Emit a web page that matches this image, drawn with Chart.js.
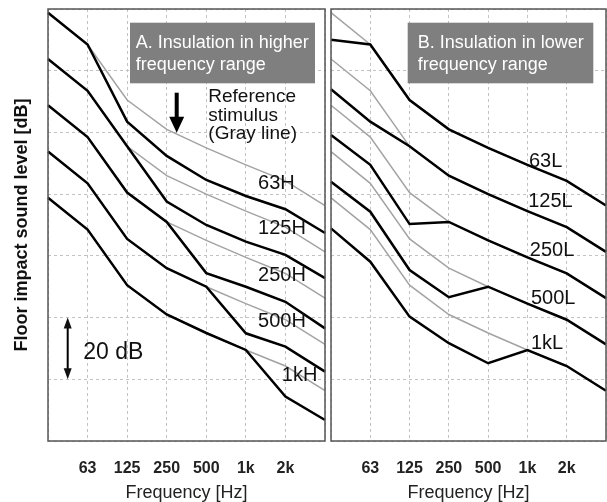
<!DOCTYPE html>
<html>
<head>
<meta charset="utf-8">
<script src="https://cdn.jsdelivr.net/npm/chart.js@4.4.1/dist/chart.umd.min.js"></script>
<style>
  html, body { margin: 0; padding: 0; background: #fff; }
  #wrap { position: relative; width: 607px; height: 502px; }
  canvas { position: absolute; top: 0; }
  #chartA { left: 0; }
  #chartB { left: 327px; }
</style>
</head>
<body>
<div id="wrap">
  <canvas id="chartA" width="327" height="502"></canvas>
  <canvas id="chartB" width="280" height="502"></canvas>
</div>
<script>
// Frequency bands (outer slots are unlabeled)
const categories = ['', '63', '125', '250', '500', '1k', '2k', ''];

// Reference stimulus (gray lines), dB
const ref63  = [138.8, 128.5, 110.5, 101.0, 95.0, 89.5, 84.3, 76.3];
const ref125 = [123.8, 113.5, 95.5, 86.0, 80.0, 74.5, 69.3, 61.3];
const ref250 = [108.8, 98.5, 80.5, 71.0, 65.0, 59.5, 54.3, 46.3];
const ref500 = [93.8, 83.5, 65.5, 56.0, 50.0, 44.5, 39.3, 31.3];
const ref1k  = [78.8, 68.5, 50.5, 41.0, 35.0, 29.5, 24.3, 16.3];

// A. insulation in higher frequency range
const hi63  = [138.8, 128.5, 103.5, 92.4, 84.6, 79.4, 75.1, 67.4];
const hi125 = [123.8, 113.5, 95.5, 77.6, 70.0, 64.6, 60.3, 52.8];
const hi250 = [108.8, 98.5, 80.5, 71.0, 54.4, 50.0, 45.1, 36.5];
const hi500 = [93.8, 83.5, 65.5, 56.0, 50.0, 34.9, 30.6, 22.5];
const hi1k  = [78.8, 68.5, 50.5, 41.0, 35.0, 29.5, 14.4, 6.8];

// B. insulation in lower frequency range
const lo63  = [130.0, 128.5, 110.5, 101.0, 95.0, 89.5, 84.3, 76.3];
const lo125 = [114.0, 103.5, 95.5, 86.0, 80.0, 74.5, 69.3, 61.3];
const lo250 = [99.2, 89.5, 70.3, 71.0, 65.0, 59.5, 54.3, 46.3];
const lo500 = [84.0, 74.3, 55.4, 46.6, 50.0, 44.5, 39.3, 31.3];
const lo1k  = [68.9, 58.1, 40.3, 31.7, 25.2, 29.5, 24.3, 16.3];

const namesA = ['63H', '125H', '250H', '500H', '1kH'];
const namesB = ['63L', '125L', '250L', '500L', '1kL'];

const FONT = 'Arial, "Liberation Sans", sans-serif';

function lineSet(data, color, width) {
    return {
        data: data,
        borderColor: color,
        borderWidth: width,
        pointRadius: 0,
        tension: 0,
        fill: false,
        borderJoinStyle: 'miter'
    };
}

function buildScales(showYTitle, yWidth) {
    return {
        x: {
            type: 'category',
            offset: false,
            // invisible tick marks push the labels down (ticks.padding would shrink the plot)
            grid: { color: '#c2c2c2', lineWidth: 1, drawTicks: true, tickLength: 18, tickColor: 'rgba(0,0,0,0)' },
            border: { display: false, dash: [3, 3] },
            ticks: {
                autoSkip: false, maxRotation: 0, padding: 0, color: '#222',
                font: { family: FONT, size: 16, weight: 'bold' }
            },
            title: {
                display: true, text: 'Frequency [Hz]', color: '#222', padding: 0,
                font: { family: FONT, size: 18, lineHeight: 1 }
            },
            afterFit: s => { s.height = 61; }
        },
        y: {
            min: 0, max: 140,
            grid: { color: '#c2c2c2', lineWidth: 1, drawTicks: false },
            border: { display: false, dash: [3, 3] },
            ticks: { display: false, stepSize: 20, padding: 0 },
            title: {
                display: showYTitle, text: 'Floor impact sound level [dB]', color: '#111',
                padding: { top: 11, bottom: 0 },
                font: { family: FONT, size: 18, weight: 'bold' }
            },
            afterFit: s => { s.width = yWidth; }
        }
    };
}

// frame, title box, curve labels, extra notes
function notesPlugin(notes) {
    return {
        id: 'notes',
        afterDraw(chart) {
            const { ctx, chartArea: a, scales } = chart;
            const px = i => scales.x.getPixelForValue(i);
            const py = v => scales.y.getPixelForValue(v);
            ctx.save();
            ctx.strokeStyle = '#555';
            ctx.lineWidth = 1.5;
            ctx.strokeRect(a.left, a.top, a.right - a.left, a.bottom - a.top);

            ctx.fillStyle = '#7f7f7f';
            ctx.fillRect(a.left + notes.box.dx, a.top + 13.7, notes.box.w, 60.6);
            ctx.fillStyle = '#fff';
            ctx.font = '18px ' + FONT;
            ctx.textBaseline = 'middle';
            notes.box.lines.forEach((t, k) => ctx.fillText(t, a.left + notes.box.tx, a.top + 34.3 + k * 21.7));

            ctx.fillStyle = '#111';
            ctx.font = '20px ' + FONT;
            notes.tags.forEach(t => ctx.fillText(t.text, px(t.xi), py(t.v)));

            if (notes.extra) notes.extra(ctx, a, px, py);
            ctx.restore();
        }
    };
}

const notesA = {
    box: { dx: 82, tx: 87.7, w: 185, lines: ['A. Insulation in higher', 'frequency range'] },
    tags: [
        { text: namesA[0], xi: 5.31, v: 83.6 },
        { text: namesA[1], xi: 5.31, v: 69.0 },
        { text: namesA[2], xi: 5.31, v: 53.8 },
        { text: namesA[3], xi: 5.31, v: 38.6 },
        { text: namesA[4], xi: 5.91, v: 21.1 }
    ],
    extra(ctx, a, px, py) {
        // arrow toward the reference line
        const ax = a.left + 128.7;
        ctx.fillStyle = '#000';
        ctx.fillRect(ax - 2, a.top + 83.7, 4, 26);
        ctx.beginPath();
        ctx.moveTo(ax - 7.5, a.top + 107.7);
        ctx.lineTo(ax + 7.5, a.top + 107.7);
        ctx.lineTo(ax, a.top + 123.7);
        ctx.closePath();
        ctx.fill();

        ctx.fillStyle = '#111';
        ctx.font = '19px ' + FONT;
        ['Reference', 'stimulus', '(Gray line)'].forEach((t, k) =>
            ctx.fillText(t, a.left + 160.3, a.top + 87.7 + k * 18.7));

        // 20 dB scale bar
        const bx = a.left + 19.7, y1 = py(40), y2 = py(20);
        ctx.strokeStyle = '#000';
        ctx.lineWidth = 2;
        ctx.beginPath();
        ctx.moveTo(bx, y1 + 6);
        ctx.lineTo(bx, y2 - 6);
        ctx.stroke();
        ctx.beginPath();
        ctx.moveTo(bx, y1); ctx.lineTo(bx - 4, y1 + 11); ctx.lineTo(bx + 4, y1 + 11); ctx.closePath();
        ctx.moveTo(bx, y2); ctx.lineTo(bx - 4, y2 - 11); ctx.lineTo(bx + 4, y2 - 11); ctx.closePath();
        ctx.fill();
        ctx.font = '23px ' + FONT;
        ctx.fillText('20 dB', a.left + 35.3, (y1 + y2) / 2 + 4);
    }
};

const notesB = {
    box: { dx: 76.7, tx: 86.7, w: 185.6, lines: ['B. Insulation in lower', 'frequency range'] },
    tags: [
        { text: namesB[0], xi: 5.04, v: 90.5 },
        { text: namesB[1], xi: 5.02, v: 77.6 },
        { text: namesB[2], xi: 5.06, v: 61.9 },
        { text: namesB[3], xi: 5.09, v: 46.2 },
        { text: namesB[4], xi: 5.09, v: 31.7 }
    ]
};

function makePanel(canvasId, blacks, showYTitle, yWidth, padRight, notes) {
    const grays = [ref63, ref125, ref250, ref500, ref1k];
    const sets = blacks.map(d => lineSet(d, '#000', 2.5))
        .concat(grays.map(d => lineSet(d, '#a3a3a3', 1.5)));
    return new Chart(document.getElementById(canvasId), {
        type: 'line',
        data: { labels: categories, datasets: sets },
        options: {
            responsive: false,
            animation: false,
            layout: { autoPadding: false, padding: { top: 9, right: padRight, left: 0, bottom: 0 } },
            plugins: { legend: { display: false }, tooltip: { enabled: false } },
            scales: buildScales(showYTitle, yWidth)
        },
        plugins: [notesPlugin(notes)]
    });
}

makePanel('chartA', [hi63, hi125, hi250, hi500, hi1k], true, 48, 2, notesA);
makePanel('chartB', [lo63, lo125, lo250, lo500, lo1k], false, 4, 1, notesB);
</script>
</body>
</html>
